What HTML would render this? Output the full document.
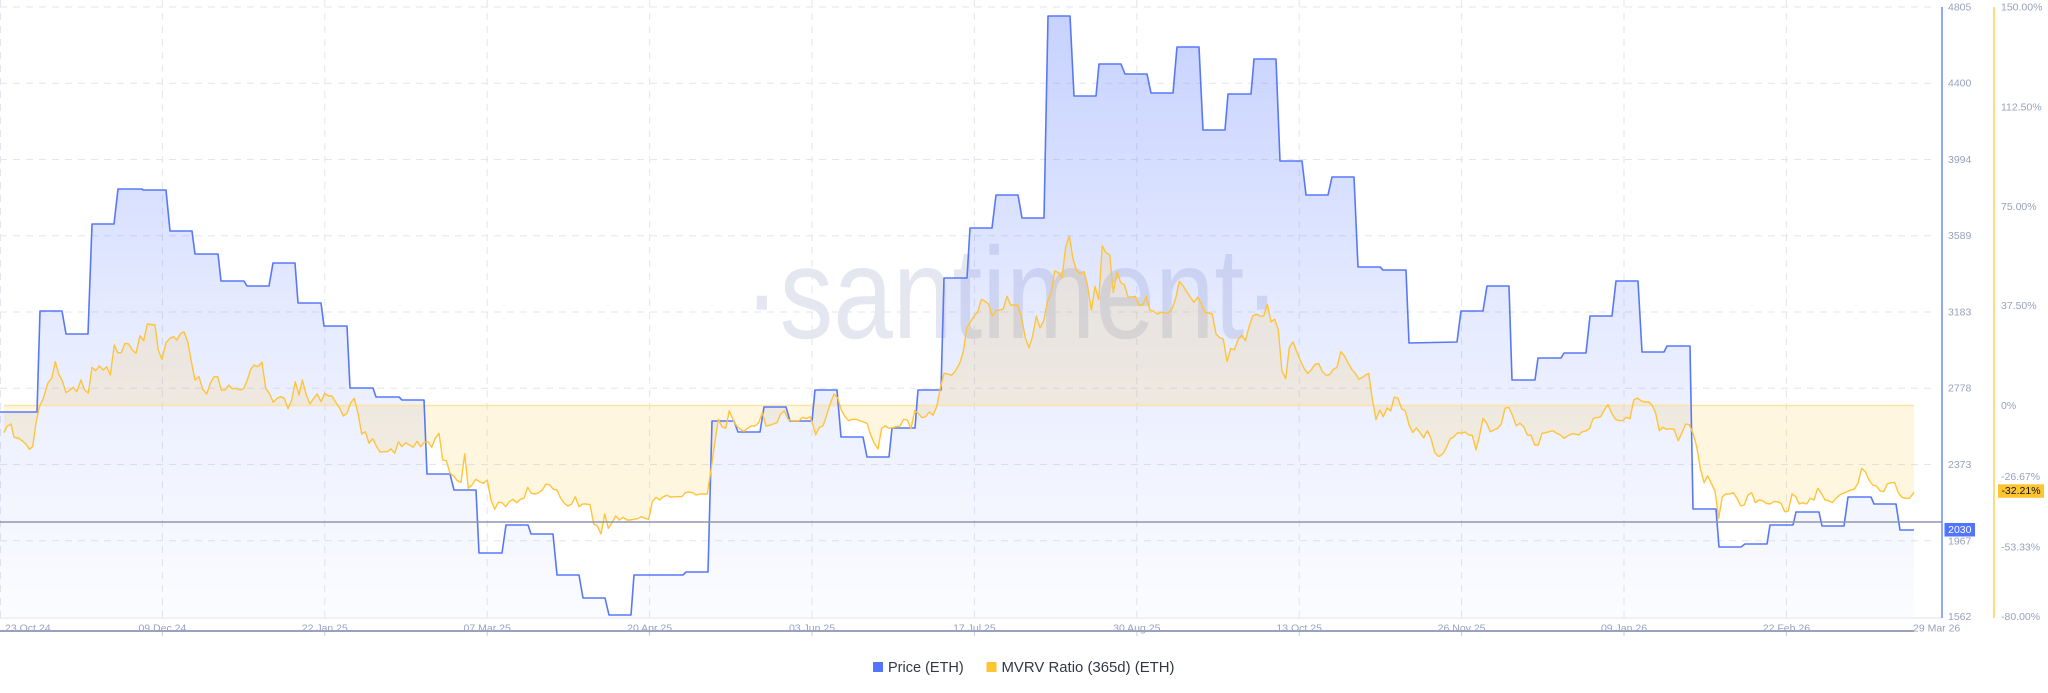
<!DOCTYPE html>
<html>
<head>
<meta charset="utf-8">
<style>
  html, body { margin: 0; padding: 0; background: #ffffff; }
  body { width: 2048px; height: 693px; overflow: hidden; }
  svg { display: block; font-family: "Liberation Sans", "DejaVu Sans", sans-serif; }
</style>
</head>
<body>
<svg width="2048" height="693" viewBox="0 0 2048 693" xmlns="http://www.w3.org/2000/svg">
  <defs>
    <linearGradient id="pg" gradientUnits="userSpaceOnUse" x1="0" y1="7" x2="0" y2="617">
      <stop offset="0" stop-color="#5275ff" stop-opacity="0.33"/>
      <stop offset="0.5" stop-color="#5275ff" stop-opacity="0.15"/>
      <stop offset="1" stop-color="#5275ff" stop-opacity="0.02"/>
    </linearGradient>
  </defs>
  <rect x="0" y="0" width="2048" height="693" fill="#ffffff"/>

  <!-- watermark -->
  <text x="744" y="338" font-size="130" fill="#e4e6f0" textLength="536" lengthAdjust="spacingAndGlyphs">·santiment·</text>

  <!-- horizontal grid -->
  <g stroke="#e3e5ef" stroke-width="1" stroke-dasharray="7 6">
    <line x1="0" y1="7" x2="1936" y2="7"/>
    <line x1="0" y1="83.25" x2="1936" y2="83.25"/>
    <line x1="0" y1="159.5" x2="1936" y2="159.5"/>
    <line x1="0" y1="235.75" x2="1936" y2="235.75"/>
    <line x1="0" y1="312" x2="1936" y2="312"/>
    <line x1="0" y1="388.25" x2="1936" y2="388.25"/>
    <line x1="0" y1="464.5" x2="1936" y2="464.5"/>
    <line x1="0" y1="540.75" x2="1936" y2="540.75"/>
  </g>
  <!-- vertical grid -->
  <g stroke="#e3e5ef" stroke-width="1" stroke-dasharray="7 6">
    <line x1="0.5" y1="0" x2="0.5" y2="618"/>
    <line x1="162.4" y1="0" x2="162.4" y2="618"/>
    <line x1="324.8" y1="0" x2="324.8" y2="618"/>
    <line x1="487.2" y1="0" x2="487.2" y2="618"/>
    <line x1="649.6" y1="0" x2="649.6" y2="618"/>
    <line x1="812" y1="0" x2="812" y2="618"/>
    <line x1="974.4" y1="0" x2="974.4" y2="618"/>
    <line x1="1136.8" y1="0" x2="1136.8" y2="618"/>
    <line x1="1299.2" y1="0" x2="1299.2" y2="618"/>
    <line x1="1461.6" y1="0" x2="1461.6" y2="618"/>
    <line x1="1624" y1="0" x2="1624" y2="618"/>
    <line x1="1786.4" y1="0" x2="1786.4" y2="618"/>
  </g>

  <!-- price area -->
  <path fill="url(#pg)" stroke="none" d="M0,412 L37,412 L40,311 L62,311 L66,334 L88,334 L92,224 L114,224 L118,189 L142,189 L143,190 L166,190 L170,231 L192,231 L195,254 L218,254 L221,281 L244,281 L247,286 L269,286 L273,263 L295,263 L298,303 L321,303 L324,326 L347,326 L350,388 L373,388 L376,397 L399,397 L402,400 L424,400 L427,474 L450,474 L454,490 L476,490 L479,553 L502,553 L506,525 L528,525 L531,534 L553,534 L557,575 L579,575 L583,598 L605,598 L609,615 L631,615 L634,575 L683,575 L686,572 L708,572 L712,421 L734,421 L738,432 L760,432 L764,407 L786,407 L790,421 L812,421 L815,390 L837,390 L841,437 L863,437 L867,457 L889,457 L892,428 L915,428 L918,390 L941,390 L944,278 L967,278 L970,228 L992,228 L996,195 L1018,195 L1022,218 L1044,218 L1048,16 L1070,16 L1074,96 L1096,96 L1099,64 L1121,64 L1125,74 L1147,74 L1151,93 L1173,93 L1177,47 L1199,47 L1203,130 L1225,130 L1228,94 L1251,94 L1254,59 L1276,59 L1280,161 L1302,161 L1306,195 L1328,195 L1332,177 L1354,177 L1358,267 L1380,267 L1383,270 L1406,270 L1409,343 L1457,342 L1461,311 L1483,311 L1487,286 L1509,286 L1512,380 L1535,380 L1538,358 L1561,358 L1564,353 L1586,353 L1590,316 L1612,316 L1616,281 L1638,281 L1642,352 L1664,352 L1667,346 L1690,346 L1693,509 L1716,509 L1719,547 L1741,547 L1745,544 L1767,544 L1770,525 L1793,525 L1796,512 L1819,512 L1822,526 L1844,526 L1848,497 L1871,497 L1874,504 L1896,504 L1900,530 L1914,530 L1914,617 L0,617 Z"/>

  <!-- MVRV area to 0% baseline -->
  <path id="mv" fill="#ffc531" fill-opacity="0.15" stroke="none" d="M4,405 L4,432.7 L6.7,426.7 L11,424 L14,437.3 L18.3,438 L23.3,441.7 L26.7,445 L29.3,449.3 L32.7,446.7 L36,423.3 L39.3,406.7 L43.3,398.3 L47.7,383.3 L51.7,378.3 L55.3,361.7 L58.7,374 L62.3,380.7 L66,392.7 L70,390 L73.3,387.3 L76.7,391.7 L81,380 L84.3,389.3 L88.3,393.3 L92,367.3 L95.7,370.7 L99.3,366 L103.3,370 L106.7,366.7 L110.3,375 L114.3,345 L117.7,352.7 L121.3,352.7 L125,343.3 L128.7,344 L132.3,350 L136,353.3 L140,335.7 L143.7,340.7 L147.3,324 L155,325 L158.3,350 L162,359.3 L166,342.7 L170,338.3 L173.7,336.7 L177,340 L180.7,333.3 L184,331.7 L187.7,341.7 L191.7,363.3 L195,380 L199,376.7 L202.7,389.3 L206.7,394 L210.3,383.3 L214,376.7 L217.7,376.7 L221.3,390 L225,390 L228.7,385 L232.3,388.7 L236,388.3 L240,390 L243.7,388.7 L247.3,380 L250.7,369.3 L254.3,365 L257.7,366.7 L262,362.3 L265.7,388.3 L269.3,393.3 L273.3,402.3 L277,398.3 L280.7,396.7 L284.3,398.3 L288,408.7 L291.7,400 L295.3,381.7 L299,395 L302.3,380 L306,394 L310,404 L313.7,398.3 L317.3,394 L321,401.7 L324.7,393.3 L328.7,396 L332,396 L336,402.7 L339.7,408.3 L343.3,416 L347,413.3 L350.7,402.7 L354.3,398.3 L358,413.3 L361.7,434 L365.3,431.7 L369,443.3 L372.7,438.7 L376.3,446 L380,452 L383.7,451.7 L387.3,451.7 L391,449 L394.7,453.3 L398.3,442 L402,446.7 L405.7,442.7 L409.3,445 L413.3,447.3 L417,441.3 L420.7,446.7 L424.3,442.3 L428,441.7 L431.7,447.3 L435.3,438.3 L439,433.3 L442.7,460 L446.3,460.7 L450,473.3 L453.7,476 L457.3,480.7 L461,482.3 L464.7,454 L468.3,488.3 L472,485 L475.7,479.3 L480,482 L483.3,483.3 L487.3,480 L491,500 L494.7,509.3 L498.3,502.3 L502,502.7 L505.7,506.7 L509.3,501.7 L513,499.3 L516.7,502.7 L520.3,499.3 L524,498.3 L527.7,487.3 L531.3,493.3 L535,494 L538.7,492.7 L542.3,490 L546,484 L549.7,485 L553.3,489.3 L557,490 L560.7,498.3 L564.3,503.3 L568,506 L571.7,504 L575.3,496.7 L579,506.7 L582.7,504 L586.3,504 L590,504.7 L593.7,524 L597.3,526 L601,534 L604.7,514 L608.3,528.3 L612,522.7 L615.7,516 L619.3,520 L623,517.3 L626.7,520 L630.3,520 L634,519.3 L637.7,518.7 L641.3,516.7 L645,518.3 L648.7,519.3 L652.3,501.7 L656,497.3 L659.7,500 L663.3,496.7 L667,495.3 L670.7,497.3 L674.3,496.7 L678,496.7 L681.7,496.7 L685.3,492.7 L689,492 L692.7,492.7 L696.3,495 L700,494 L703.7,494 L707.3,494 L711,470 L714.7,443.3 L718.3,419.3 L722,426.7 L725.7,428.3 L729.3,410.7 L733,420 L736.7,426 L740.3,429.3 L744,431.3 L747.7,428.3 L751.3,426 L755,426 L758.7,422.7 L762.3,412.7 L766,426 L769.7,425.3 L773.3,424 L777,422.7 L780.7,414 L784.3,411 L788,419.3 L791.7,420.7 L795.3,420.7 L799,420.7 L802.7,417.3 L806.3,418.7 L810,416.7 L813.3,426 L815.7,435 L819.3,427.3 L823,426 L826.7,415 L830.3,403.3 L834,394 L837.7,398 L841.3,410 L845,416.7 L848.7,420.7 L852.3,419.3 L856,419.3 L859.7,420.7 L863.3,422 L867,423.3 L870.7,435 L874.3,443.3 L878,449 L881.7,428.3 L885.3,426 L889,428.3 L892.7,427.7 L896.3,426.7 L900,426 L903.7,419.3 L907.3,420 L911,428.7 L914.7,410.7 L918.3,413.3 L922,417.7 L925.7,416.7 L929.3,412 L933,415.3 L936.7,406.7 L940.3,388.3 L944,373.3 L947.7,374 L951.3,375.3 L955,371.7 L960,362.7 L963.3,351.6 L966.7,327.9 L970.3,322 L974,316.1 L977.7,312.1 L981.3,299.5 L985,301.1 L988.7,304.2 L992.3,316.1 L996,310.2 L999.7,310.2 L1003.3,309 L1007,296.3 L1010.7,305 L1014.3,305 L1018,305.4 L1021.7,318.1 L1025.3,337.8 L1029,347.7 L1032.7,335.8 L1036.3,316.1 L1040,327.9 L1043.7,320.8 L1047.3,302.3 L1051,292.4 L1054.7,271 L1058.3,272.6 L1062,277.8 L1065.7,246.9 L1069.3,236.3 L1073,258.8 L1076.7,270.6 L1080.3,273.8 L1084,271.4 L1087.7,286.4 L1091.3,310.2 L1095,286.4 L1098.7,299.5 L1102.3,245.8 L1106,252.9 L1109.7,254.8 L1113.3,292.4 L1117,271.8 L1120.7,282.5 L1124.3,284.5 L1128,297.1 L1131.7,297.1 L1135.3,296.3 L1139,305 L1142.7,305 L1146.3,296.3 L1150,310.2 L1153.7,311.3 L1157.3,314.1 L1161,312.1 L1164.7,312.9 L1168.3,312.9 L1172,309 L1175.7,298.3 L1179.3,281.3 L1183,285.7 L1186.7,291.6 L1190.3,297.1 L1194,302.3 L1197.7,297.1 L1201.3,303.4 L1205,312.1 L1208.7,312.9 L1212.3,314.1 L1216,333.9 L1219.7,337.8 L1223.3,339 L1227,361.5 L1230.7,348.5 L1234.3,349.7 L1238,339.8 L1241.7,335 L1245.3,340.6 L1249,327.1 L1252.7,316.1 L1256.3,314.1 L1260,316.1 L1263.7,316.1 L1267.3,304.2 L1271,322 L1274.7,319.2 L1278.3,329.9 L1282,371.4 L1285.7,378.5 L1289.3,347.7 L1293,341.8 L1296.7,351.6 L1300.3,360.3 L1304,368.2 L1307.7,373.4 L1311.3,369.8 L1315,364.3 L1318.7,363.5 L1322.3,371.4 L1326,375.3 L1329.7,374.6 L1333.3,369.4 L1337,367.4 L1340.7,351.6 L1344.3,355.6 L1348,362.7 L1351.7,369.4 L1355.3,373.4 L1359,379.3 L1362.7,377.3 L1366.3,374.6 L1368.7,373.4 L1372.3,399.1 L1376,419.6 L1379.7,410.1 L1383.3,416.8 L1387,408.1 L1390.7,410.9 L1394.3,397.1 L1398,398.3 L1401.7,408.9 L1405.3,410.9 L1409,424.7 L1412.7,432.6 L1416.3,427.9 L1420,432.6 L1423.7,437.8 L1427.3,430.7 L1431,438.6 L1434.7,452.4 L1438.3,456.3 L1440,456 L1443.3,453.3 L1446.7,446.7 L1450.3,438.7 L1454,436.7 L1457.7,432.7 L1461.3,433.3 L1465,432 L1468.7,435 L1472.3,435.3 L1476,450 L1479.3,436.7 L1483,418.3 L1486.7,423.3 L1490.3,431.7 L1494,430 L1497.7,428.3 L1501.3,424 L1505,408.3 L1508.7,407.3 L1512.3,415 L1516.3,425.7 L1520,423.3 L1523.7,426.7 L1527.3,435 L1531,435.3 L1534.7,445 L1538.3,445 L1542,433.3 L1545.7,432.7 L1549.3,431.7 L1553,430.7 L1556.7,433.3 L1560.3,435 L1564,438.3 L1567.7,436 L1571.3,434 L1575,434 L1578.7,435 L1582.3,431.7 L1586,431 L1589.7,428.3 L1593.3,418.3 L1597,417.7 L1600.7,416.7 L1604.3,410 L1608,404.7 L1611.7,413.3 L1615.3,419 L1619,420.7 L1622.7,420.7 L1626.3,417.3 L1630,418.7 L1633.7,400 L1637.3,398 L1641,400.7 L1644.7,402 L1648.3,401.7 L1652,405 L1655.7,413.3 L1659.3,430.7 L1663,427.3 L1666.7,429.3 L1670.3,428.7 L1674,429.3 L1678.3,440.7 L1682,432.7 L1685.7,424 L1689.3,424.7 L1693,433.3 L1696.7,446.7 L1700.3,468.3 L1704,482.7 L1707.7,476 L1711.3,483.3 L1715,491.3 L1718.7,518.3 L1722.3,496.7 L1726,494 L1729.7,494 L1733.3,492.7 L1737,498.3 L1740.7,506 L1744.3,505 L1748,495 L1751.7,492.7 L1755.3,502.7 L1759,500 L1762.7,500.7 L1766.3,503.3 L1770,504 L1773.7,501.7 L1777.3,501.7 L1781,503.3 L1784.7,511.7 L1788.3,511 L1792,494 L1795.7,496.7 L1799.3,504 L1803,502.7 L1806.7,504 L1810.3,498.3 L1814,500 L1817.7,488.3 L1821.3,493.3 L1825,500 L1828.7,500.7 L1832.3,502.7 L1836,498.3 L1839.7,495 L1843.3,493.3 L1847,491.7 L1850.7,490 L1854.3,489.3 L1858,483.3 L1861.7,468.3 L1865.3,471.7 L1869,480 L1872.7,485 L1876.3,486 L1880,490.7 L1883.7,491.7 L1887.3,484 L1891,482.7 L1894.7,482.7 L1898.3,492.7 L1902,497.3 L1905.7,498.3 L1909.3,498.3 L1913,494 L1914,492 L1914,405 Z"/>

  <!-- 0% baseline -->
  <line x1="4" y1="405.5" x2="1914" y2="405.5" stroke="#fde3a2" stroke-width="1.6"/>

  <!-- price line -->
  <path fill="none" stroke="#5878f8" stroke-width="1.6" stroke-linejoin="round" d="M0,412 L37,412 L40,311 L62,311 L66,334 L88,334 L92,224 L114,224 L118,189 L142,189 L143,190 L166,190 L170,231 L192,231 L195,254 L218,254 L221,281 L244,281 L247,286 L269,286 L273,263 L295,263 L298,303 L321,303 L324,326 L347,326 L350,388 L373,388 L376,397 L399,397 L402,400 L424,400 L427,474 L450,474 L454,490 L476,490 L479,553 L502,553 L506,525 L528,525 L531,534 L553,534 L557,575 L579,575 L583,598 L605,598 L609,615 L631,615 L634,575 L683,575 L686,572 L708,572 L712,421 L734,421 L738,432 L760,432 L764,407 L786,407 L790,421 L812,421 L815,390 L837,390 L841,437 L863,437 L867,457 L889,457 L892,428 L915,428 L918,390 L941,390 L944,278 L967,278 L970,228 L992,228 L996,195 L1018,195 L1022,218 L1044,218 L1048,16 L1070,16 L1074,96 L1096,96 L1099,64 L1121,64 L1125,74 L1147,74 L1151,93 L1173,93 L1177,47 L1199,47 L1203,130 L1225,130 L1228,94 L1251,94 L1254,59 L1276,59 L1280,161 L1302,161 L1306,195 L1328,195 L1332,177 L1354,177 L1358,267 L1380,267 L1383,270 L1406,270 L1409,343 L1457,342 L1461,311 L1483,311 L1487,286 L1509,286 L1512,380 L1535,380 L1538,358 L1561,358 L1564,353 L1586,353 L1590,316 L1612,316 L1616,281 L1638,281 L1642,352 L1664,352 L1667,346 L1690,346 L1693,509 L1716,509 L1719,547 L1741,547 L1745,544 L1767,544 L1770,525 L1793,525 L1796,512 L1819,512 L1822,526 L1844,526 L1848,497 L1871,497 L1874,504 L1896,504 L1900,530 L1914,530"/>

  <!-- MVRV line -->
  <path fill="none" stroke="#ffc43a" stroke-width="1.4" stroke-linejoin="round" d="M4,432.7 L6.7,426.7 L11,424 L14,437.3 L18.3,438 L23.3,441.7 L26.7,445 L29.3,449.3 L32.7,446.7 L36,423.3 L39.3,406.7 L43.3,398.3 L47.7,383.3 L51.7,378.3 L55.3,361.7 L58.7,374 L62.3,380.7 L66,392.7 L70,390 L73.3,387.3 L76.7,391.7 L81,380 L84.3,389.3 L88.3,393.3 L92,367.3 L95.7,370.7 L99.3,366 L103.3,370 L106.7,366.7 L110.3,375 L114.3,345 L117.7,352.7 L121.3,352.7 L125,343.3 L128.7,344 L132.3,350 L136,353.3 L140,335.7 L143.7,340.7 L147.3,324 L155,325 L158.3,350 L162,359.3 L166,342.7 L170,338.3 L173.7,336.7 L177,340 L180.7,333.3 L184,331.7 L187.7,341.7 L191.7,363.3 L195,380 L199,376.7 L202.7,389.3 L206.7,394 L210.3,383.3 L214,376.7 L217.7,376.7 L221.3,390 L225,390 L228.7,385 L232.3,388.7 L236,388.3 L240,390 L243.7,388.7 L247.3,380 L250.7,369.3 L254.3,365 L257.7,366.7 L262,362.3 L265.7,388.3 L269.3,393.3 L273.3,402.3 L277,398.3 L280.7,396.7 L284.3,398.3 L288,408.7 L291.7,400 L295.3,381.7 L299,395 L302.3,380 L306,394 L310,404 L313.7,398.3 L317.3,394 L321,401.7 L324.7,393.3 L328.7,396 L332,396 L336,402.7 L339.7,408.3 L343.3,416 L347,413.3 L350.7,402.7 L354.3,398.3 L358,413.3 L361.7,434 L365.3,431.7 L369,443.3 L372.7,438.7 L376.3,446 L380,452 L383.7,451.7 L387.3,451.7 L391,449 L394.7,453.3 L398.3,442 L402,446.7 L405.7,442.7 L409.3,445 L413.3,447.3 L417,441.3 L420.7,446.7 L424.3,442.3 L428,441.7 L431.7,447.3 L435.3,438.3 L439,433.3 L442.7,460 L446.3,460.7 L450,473.3 L453.7,476 L457.3,480.7 L461,482.3 L464.7,454 L468.3,488.3 L472,485 L475.7,479.3 L480,482 L483.3,483.3 L487.3,480 L491,500 L494.7,509.3 L498.3,502.3 L502,502.7 L505.7,506.7 L509.3,501.7 L513,499.3 L516.7,502.7 L520.3,499.3 L524,498.3 L527.7,487.3 L531.3,493.3 L535,494 L538.7,492.7 L542.3,490 L546,484 L549.7,485 L553.3,489.3 L557,490 L560.7,498.3 L564.3,503.3 L568,506 L571.7,504 L575.3,496.7 L579,506.7 L582.7,504 L586.3,504 L590,504.7 L593.7,524 L597.3,526 L601,534 L604.7,514 L608.3,528.3 L612,522.7 L615.7,516 L619.3,520 L623,517.3 L626.7,520 L630.3,520 L634,519.3 L637.7,518.7 L641.3,516.7 L645,518.3 L648.7,519.3 L652.3,501.7 L656,497.3 L659.7,500 L663.3,496.7 L667,495.3 L670.7,497.3 L674.3,496.7 L678,496.7 L681.7,496.7 L685.3,492.7 L689,492 L692.7,492.7 L696.3,495 L700,494 L703.7,494 L707.3,494 L711,470 L714.7,443.3 L718.3,419.3 L722,426.7 L725.7,428.3 L729.3,410.7 L733,420 L736.7,426 L740.3,429.3 L744,431.3 L747.7,428.3 L751.3,426 L755,426 L758.7,422.7 L762.3,412.7 L766,426 L769.7,425.3 L773.3,424 L777,422.7 L780.7,414 L784.3,411 L788,419.3 L791.7,420.7 L795.3,420.7 L799,420.7 L802.7,417.3 L806.3,418.7 L810,416.7 L813.3,426 L815.7,435 L819.3,427.3 L823,426 L826.7,415 L830.3,403.3 L834,394 L837.7,398 L841.3,410 L845,416.7 L848.7,420.7 L852.3,419.3 L856,419.3 L859.7,420.7 L863.3,422 L867,423.3 L870.7,435 L874.3,443.3 L878,449 L881.7,428.3 L885.3,426 L889,428.3 L892.7,427.7 L896.3,426.7 L900,426 L903.7,419.3 L907.3,420 L911,428.7 L914.7,410.7 L918.3,413.3 L922,417.7 L925.7,416.7 L929.3,412 L933,415.3 L936.7,406.7 L940.3,388.3 L944,373.3 L947.7,374 L951.3,375.3 L955,371.7 L960,362.7 L963.3,351.6 L966.7,327.9 L970.3,322 L974,316.1 L977.7,312.1 L981.3,299.5 L985,301.1 L988.7,304.2 L992.3,316.1 L996,310.2 L999.7,310.2 L1003.3,309 L1007,296.3 L1010.7,305 L1014.3,305 L1018,305.4 L1021.7,318.1 L1025.3,337.8 L1029,347.7 L1032.7,335.8 L1036.3,316.1 L1040,327.9 L1043.7,320.8 L1047.3,302.3 L1051,292.4 L1054.7,271 L1058.3,272.6 L1062,277.8 L1065.7,246.9 L1069.3,236.3 L1073,258.8 L1076.7,270.6 L1080.3,273.8 L1084,271.4 L1087.7,286.4 L1091.3,310.2 L1095,286.4 L1098.7,299.5 L1102.3,245.8 L1106,252.9 L1109.7,254.8 L1113.3,292.4 L1117,271.8 L1120.7,282.5 L1124.3,284.5 L1128,297.1 L1131.7,297.1 L1135.3,296.3 L1139,305 L1142.7,305 L1146.3,296.3 L1150,310.2 L1153.7,311.3 L1157.3,314.1 L1161,312.1 L1164.7,312.9 L1168.3,312.9 L1172,309 L1175.7,298.3 L1179.3,281.3 L1183,285.7 L1186.7,291.6 L1190.3,297.1 L1194,302.3 L1197.7,297.1 L1201.3,303.4 L1205,312.1 L1208.7,312.9 L1212.3,314.1 L1216,333.9 L1219.7,337.8 L1223.3,339 L1227,361.5 L1230.7,348.5 L1234.3,349.7 L1238,339.8 L1241.7,335 L1245.3,340.6 L1249,327.1 L1252.7,316.1 L1256.3,314.1 L1260,316.1 L1263.7,316.1 L1267.3,304.2 L1271,322 L1274.7,319.2 L1278.3,329.9 L1282,371.4 L1285.7,378.5 L1289.3,347.7 L1293,341.8 L1296.7,351.6 L1300.3,360.3 L1304,368.2 L1307.7,373.4 L1311.3,369.8 L1315,364.3 L1318.7,363.5 L1322.3,371.4 L1326,375.3 L1329.7,374.6 L1333.3,369.4 L1337,367.4 L1340.7,351.6 L1344.3,355.6 L1348,362.7 L1351.7,369.4 L1355.3,373.4 L1359,379.3 L1362.7,377.3 L1366.3,374.6 L1368.7,373.4 L1372.3,399.1 L1376,419.6 L1379.7,410.1 L1383.3,416.8 L1387,408.1 L1390.7,410.9 L1394.3,397.1 L1398,398.3 L1401.7,408.9 L1405.3,410.9 L1409,424.7 L1412.7,432.6 L1416.3,427.9 L1420,432.6 L1423.7,437.8 L1427.3,430.7 L1431,438.6 L1434.7,452.4 L1438.3,456.3 L1440,456 L1443.3,453.3 L1446.7,446.7 L1450.3,438.7 L1454,436.7 L1457.7,432.7 L1461.3,433.3 L1465,432 L1468.7,435 L1472.3,435.3 L1476,450 L1479.3,436.7 L1483,418.3 L1486.7,423.3 L1490.3,431.7 L1494,430 L1497.7,428.3 L1501.3,424 L1505,408.3 L1508.7,407.3 L1512.3,415 L1516.3,425.7 L1520,423.3 L1523.7,426.7 L1527.3,435 L1531,435.3 L1534.7,445 L1538.3,445 L1542,433.3 L1545.7,432.7 L1549.3,431.7 L1553,430.7 L1556.7,433.3 L1560.3,435 L1564,438.3 L1567.7,436 L1571.3,434 L1575,434 L1578.7,435 L1582.3,431.7 L1586,431 L1589.7,428.3 L1593.3,418.3 L1597,417.7 L1600.7,416.7 L1604.3,410 L1608,404.7 L1611.7,413.3 L1615.3,419 L1619,420.7 L1622.7,420.7 L1626.3,417.3 L1630,418.7 L1633.7,400 L1637.3,398 L1641,400.7 L1644.7,402 L1648.3,401.7 L1652,405 L1655.7,413.3 L1659.3,430.7 L1663,427.3 L1666.7,429.3 L1670.3,428.7 L1674,429.3 L1678.3,440.7 L1682,432.7 L1685.7,424 L1689.3,424.7 L1693,433.3 L1696.7,446.7 L1700.3,468.3 L1704,482.7 L1707.7,476 L1711.3,483.3 L1715,491.3 L1718.7,518.3 L1722.3,496.7 L1726,494 L1729.7,494 L1733.3,492.7 L1737,498.3 L1740.7,506 L1744.3,505 L1748,495 L1751.7,492.7 L1755.3,502.7 L1759,500 L1762.7,500.7 L1766.3,503.3 L1770,504 L1773.7,501.7 L1777.3,501.7 L1781,503.3 L1784.7,511.7 L1788.3,511 L1792,494 L1795.7,496.7 L1799.3,504 L1803,502.7 L1806.7,504 L1810.3,498.3 L1814,500 L1817.7,488.3 L1821.3,493.3 L1825,500 L1828.7,500.7 L1832.3,502.7 L1836,498.3 L1839.7,495 L1843.3,493.3 L1847,491.7 L1850.7,490 L1854.3,489.3 L1858,483.3 L1861.7,468.3 L1865.3,471.7 L1869,480 L1872.7,485 L1876.3,486 L1880,490.7 L1883.7,491.7 L1887.3,484 L1891,482.7 L1894.7,482.7 L1898.3,492.7 L1902,497.3 L1905.7,498.3 L1909.3,498.3 L1913,494 L1914,492"/>

  <!-- gray horizontal marker line -->
  <line x1="0" y1="522" x2="1942" y2="522" stroke="#9095b0" stroke-width="1.6"/>

  <!-- axis lines -->
  <line x1="0" y1="618" x2="1942" y2="618" stroke="#e0e3ee" stroke-width="1"/>
  <line x1="1942" y1="7" x2="1942" y2="618" stroke="#5878f8" stroke-width="1.3"/>
  <line x1="1994" y1="7" x2="1994" y2="618" stroke="#ffc83d" stroke-width="1.3"/>

  <!-- price axis labels -->
  <g font-size="10.5" fill="#99a1bd" dominant-baseline="central">
    <text x="1948" y="7.5">4805</text>
    <text x="1948" y="83.5">4400</text>
    <text x="1948" y="160">3994</text>
    <text x="1948" y="236">3589</text>
    <text x="1948" y="312.5">3183</text>
    <text x="1948" y="388.5">2778</text>
    <text x="1948" y="465">2373</text>
    <text x="1948" y="541.5">1967</text>
    <text x="1948" y="617">1562</text>
  </g>
  <!-- percent axis labels -->
  <g font-size="10.5" fill="#99a1bd" dominant-baseline="central">
    <text x="2001" y="7.5">150.00%</text>
    <text x="2001" y="107.5">112.50%</text>
    <text x="2001" y="207">75.00%</text>
    <text x="2001" y="306">37.50%</text>
    <text x="2001" y="406">0%</text>
    <text x="2001" y="477">-26.67%</text>
    <text x="2001" y="547.5">-53.33%</text>
    <text x="2001" y="617">-80.00%</text>
  </g>

  <!-- current value badges -->
  <rect x="1944.5" y="523" width="30.5" height="13.5" fill="#5275ff"/>
  <text x="1959.8" y="530" font-size="10.5" fill="#ffffff" text-anchor="middle" dominant-baseline="central">2030</text>
  <rect x="1998" y="484.3" width="46" height="13.5" fill="#ffc531"/>
  <text x="2021" y="491.2" font-size="10.5" fill="#111111" text-anchor="middle" dominant-baseline="central">-32.21%</text>

  <!-- date labels -->
  <g font-size="10.5" fill="#99a1bd" dominant-baseline="central">
    <text x="5" y="628.5">23 Oct 24</text>
    <text x="162.4" y="628.5" text-anchor="middle">09 Dec 24</text>
    <text x="324.8" y="628.5" text-anchor="middle">22 Jan 25</text>
    <text x="487.2" y="628.5" text-anchor="middle">07 Mar 25</text>
    <text x="649.6" y="628.5" text-anchor="middle">20 Apr 25</text>
    <text x="812" y="628.5" text-anchor="middle">03 Jun 25</text>
    <text x="974.4" y="628.5" text-anchor="middle">17 Jul 25</text>
    <text x="1136.8" y="628.5" text-anchor="middle">30 Aug 25</text>
    <text x="1299.2" y="628.5" text-anchor="middle">13 Oct 25</text>
    <text x="1461.6" y="628.5" text-anchor="middle">26 Nov 25</text>
    <text x="1624" y="628.5" text-anchor="middle">09 Jan 26</text>
    <text x="1786.4" y="628.5" text-anchor="middle">22 Feb 26</text>
    <text x="1913" y="628.5">29 Mar 26</text>
  </g>
  <!-- small ticks -->
  <g stroke="#c9cddc" stroke-width="1">
    <line x1="162.4" y1="632" x2="162.4" y2="636"/>
    <line x1="324.8" y1="632" x2="324.8" y2="636"/>
    <line x1="487.2" y1="632" x2="487.2" y2="636"/>
    <line x1="649.6" y1="632" x2="649.6" y2="636"/>
    <line x1="812" y1="632" x2="812" y2="636"/>
    <line x1="974.4" y1="632" x2="974.4" y2="636"/>
    <line x1="1136.8" y1="632" x2="1136.8" y2="636"/>
    <line x1="1299.2" y1="632" x2="1299.2" y2="636"/>
    <line x1="1461.6" y1="632" x2="1461.6" y2="636"/>
    <line x1="1624" y1="632" x2="1624" y2="636"/>
    <line x1="1786.4" y1="632" x2="1786.4" y2="636"/>
  </g>
  <!-- navigator line -->
  <line x1="0" y1="631" x2="1914" y2="631" stroke="#9aa1bc" stroke-width="2"/>

  <!-- legend -->
  <rect x="873" y="662" width="10" height="10" fill="#5275ff"/>
  <text x="888" y="672" font-size="14.5" fill="#323846">Price (ETH)</text>
  <rect x="986.5" y="662" width="10" height="10" fill="#ffc531"/>
  <text x="1001.5" y="672" font-size="14.5" fill="#323846" textLength="173" lengthAdjust="spacingAndGlyphs">MVRV Ratio (365d) (ETH)</text>
</svg>
</body>
</html>
